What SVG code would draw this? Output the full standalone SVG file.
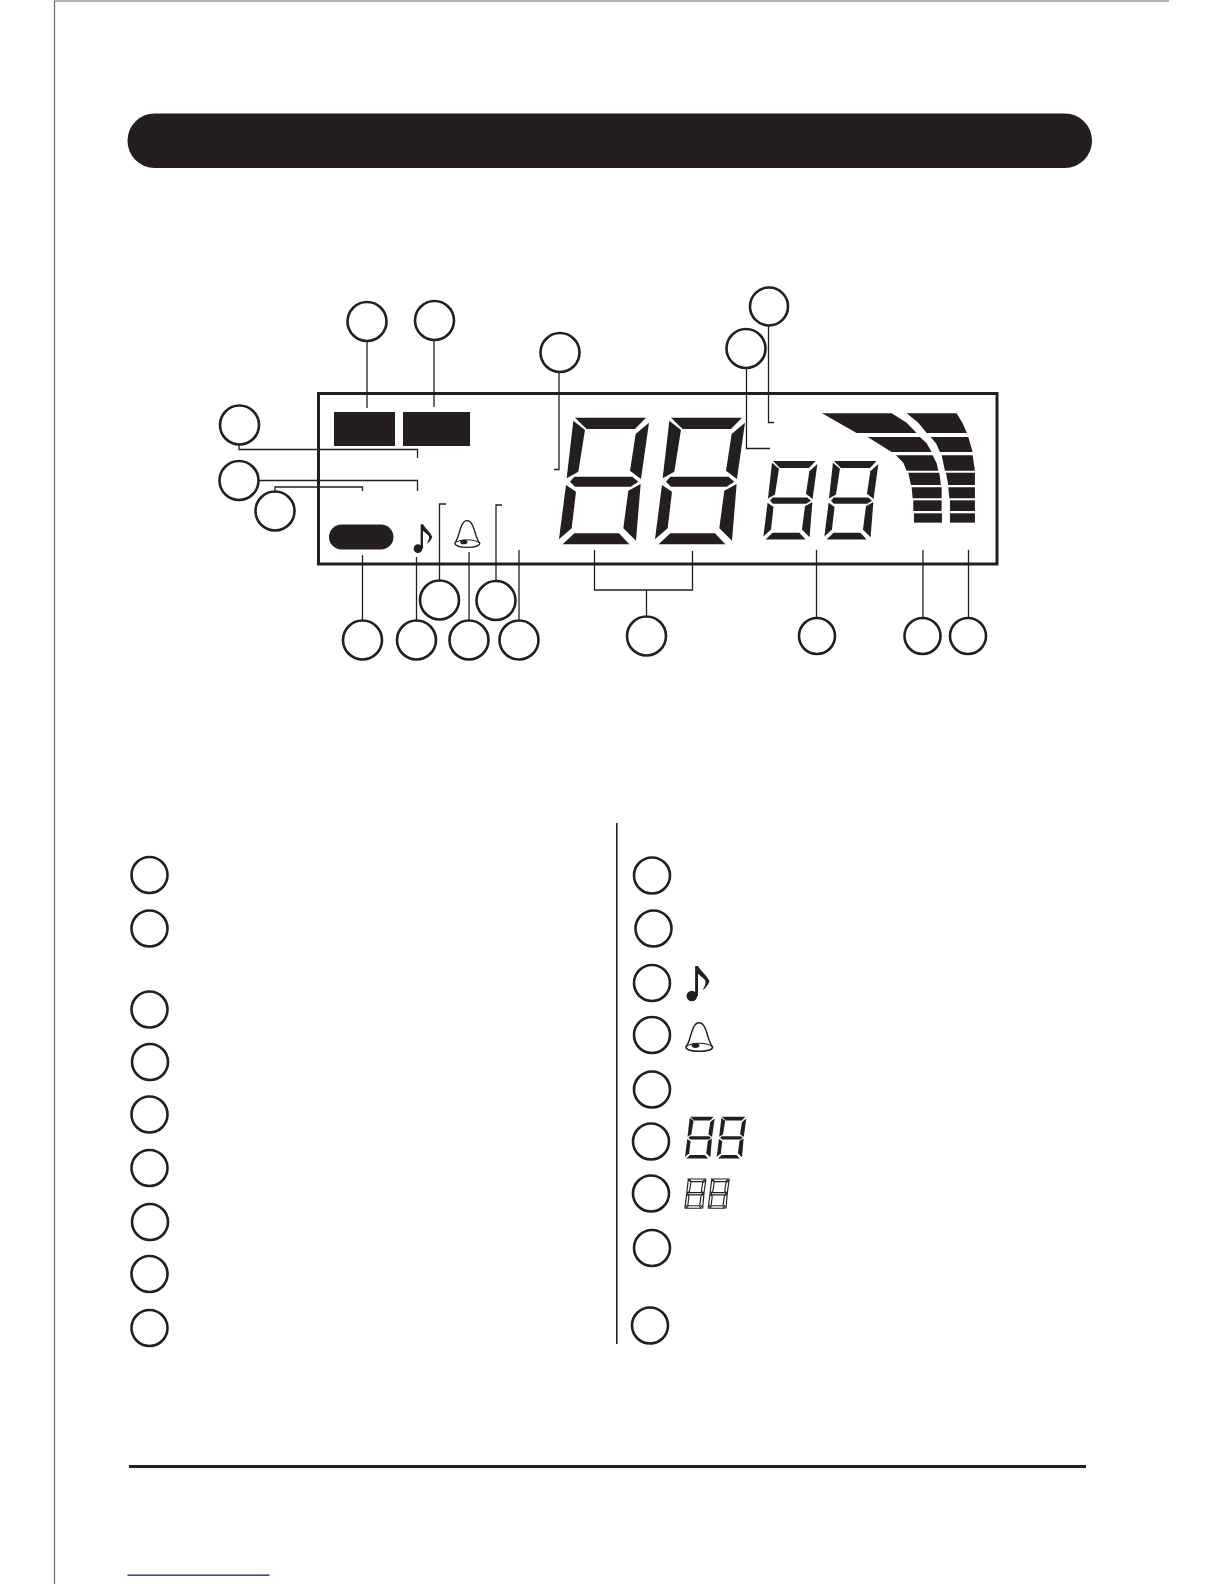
<svg xmlns="http://www.w3.org/2000/svg" width="1224" height="1584" viewBox="0 0 1224 1584">
<style>
.c{fill:#fff;stroke:#231f20;stroke-width:2.6}
.l{fill:none;stroke:#231f20;stroke-width:1.3}
.k{fill:#231f20}
.o{fill:#fff;stroke:#231f20;stroke-width:15}
</style>
<defs>
<g id="d">
<polygon points="105,413 318,413 285,447 140,447"/>
<polygon points="100,422 135,450 115,575 80,595"/>
<polygon points="327,428 287,462 270,572 303,597"/>
<polygon points="103,590 277,590 295,605 272,620 105,620 90,605"/>
<polygon points="78,615 108,635 95,745 57,778"/>
<polygon points="302,612 265,632 250,745 288,782"/>
<polygon points="103,760 237,760 268,793 68,793"/>
</g>
<g id="note">
<circle cx="654" cy="806" r="13"/>
<path d="M662,806V733H669C676,746 690,755 697,770C694,780 688,786 680,792C684,784 689,776 687,768C682,762 674,757 669,752V806Z"/>
</g>
<g id="bell">
<path d="M763,790C778,772 778,722 800,722C822,722 822,772 838,790C838,806 763,806 763,790Z" fill="#fff" stroke="#231f20" stroke-width="4"/>
<path d="M763,790C775,776 825,776 838,790" fill="none" stroke="#231f20" stroke-width="3"/>
<ellipse cx="790" cy="786" rx="11" ry="7" fill="#231f20"/>
</g>
</defs>
<rect width="1224" height="1584" fill="#fff"/>
<g id="page-frame">
<path d="M54.5,1584V1H1169" fill="none" stroke="#666" stroke-width="1.2"/>
<rect x="127.500" y="113.500" width="964.500" height="54.500" rx="27" class="k"/>
<rect x="616" y="823" width="1.6" height="521" class="k"/>
<rect x="129" y="1465" width="957" height="3" class="k"/>
<rect x="127.500" y="1574.500" width="142" height="1.3" fill="#1a1a80"/>
</g>
<g id="display">
<rect x="318.500" y="393.500" width="678.500" height="170.500" fill="none" stroke="#231f20" stroke-width="3"/>
<rect x="334" y="412" width="61" height="34" class="k"/>
<rect x="403" y="412" width="67" height="34" class="k"/>
<rect x="329" y="524.500" width="64.500" height="25" rx="12.500" class="k"/>
<g class="k" transform="translate(200,280) scale(.3333)"><use href="#note"/></g>
<g transform="translate(200.500,280) scale(.3333)"><use href="#bell"/></g>
<g class="k" transform="translate(540,280) scale(.3333)">
<use href="#d"/>
<use href="#d" x="288"/>
<g transform="translate(636,287) scale(.6,.62)"><use href="#d"/></g>
<g transform="translate(819,287) scale(.6,.62)"><use href="#d"/></g>
<polygon points="846,400 1055,400 1100,428 1130,459 950,459"/>
<polygon points="983,471 1140,471 1160,490 1175,516 1055,516"/>
<polygon points="1068,526 1178,526 1190,550 1195,572 1100,572 1090,548"/>
<polygon points="1105,578 1198,578 1203,615 1113,615"/>
<polygon points="1115,622 1205,622 1205,655 1118,655"/>
<polygon points="1120,661 1205,661 1205,693 1120,693"/>
<polygon points="1122,700 1206,700 1206,728 1122,728"/>
<polygon points="1100,400 1250,400 1268,430 1281,459 1160,459 1135,428"/>
<polygon points="1172,471 1285,471 1298,516 1200,516 1188,490"/>
<polygon points="1205,526 1298,526 1305,572 1215,572"/>
<polygon points="1218,578 1305,578 1305,615 1225,615"/>
<polygon points="1225,622 1305,622 1305,655 1228,655"/>
<polygon points="1230,661 1305,661 1305,693 1230,693"/>
<polygon points="1230,700 1305,700 1305,728 1230,728"/>
</g>
</g>
<g id="connectors" class="l">
<path d="M367,342V408"/>
<path d="M434,340V407"/>
<path d="M239,445V449.500H417.500V458"/>
<path d="M259,480.500H417.500V491"/>
<path d="M275,491V487H362.500V491"/>
<path d="M362.500,555V620"/>
<path d="M416.500,557V620"/>
<path d="M469,552V620"/>
<path d="M519,550V620"/>
<path d="M439.500,580V504H446"/>
<path d="M496,581V505H502"/>
<path d="M559,373V469.500H554"/>
<path d="M746.500,368V448.500H770"/>
<path d="M768.500,326V422.500H774"/>
<path d="M594.500,550V590H692.500V551"/>
<path d="M646.500,590V616"/>
<path d="M816.500,550V618"/>
<path d="M923,550V618"/>
<path d="M968.500,550V618"/>
</g>
<g id="callouts">
<circle id="n1" class="c" cx="367" cy="321.500" r="19.500"/>
<circle id="n2" class="c" cx="434.500" cy="320.500" r="19.500"/>
<circle id="n3" class="c" cx="560" cy="352.500" r="19.500"/>
<circle id="n4" class="c" cx="769" cy="306.500" r="19"/>
<circle id="n5" class="c" cx="746" cy="348.500" r="19.500"/>
<circle id="n6" class="c" cx="239.500" cy="425" r="19.500"/>
<circle id="n7" class="c" cx="239" cy="480.500" r="19.500"/>
<circle id="n8" class="c" cx="275" cy="511" r="19.500"/>
<circle id="n9" class="c" cx="362.500" cy="640" r="19.500"/>
<circle id="n10" class="c" cx="416.500" cy="640" r="19.500"/>
<circle id="n11" class="c" cx="469" cy="640" r="19.500"/>
<circle id="n12" class="c" cx="519" cy="640" r="19.500"/>
<circle id="n13" class="c" cx="439.500" cy="600" r="19.500"/>
<circle id="n14" class="c" cx="496" cy="600.500" r="19.500"/>
<circle id="n15" class="c" cx="646.500" cy="636" r="19.500"/>
<circle id="n16" class="c" cx="817" cy="636" r="18"/>
<circle id="n17" class="c" cx="922.500" cy="636" r="18"/>
<circle id="n18" class="c" cx="968" cy="636" r="18"/>
</g>
<g id="legend">
<circle id="l1" class="c" cx="149.500" cy="875" r="18"/>
<circle id="l2" class="c" cx="149.500" cy="928.500" r="18"/>
<circle id="l3" class="c" cx="149.500" cy="1009.500" r="18"/>
<circle id="l4" class="c" cx="150" cy="1062" r="18"/>
<circle id="l5" class="c" cx="149.500" cy="1114.500" r="18"/>
<circle id="l6" class="c" cx="149.500" cy="1168" r="18"/>
<circle id="l7" class="c" cx="150" cy="1222" r="18"/>
<circle id="l8" class="c" cx="149.500" cy="1274" r="18"/>
<circle id="l9" class="c" cx="149.500" cy="1328" r="18"/>
<circle id="r1" class="c" cx="652" cy="875.500" r="18"/>
<circle id="r2" class="c" cx="653.500" cy="928.500" r="18"/>
<circle id="r3" class="c" cx="652" cy="983" r="18"/>
<circle id="r4" class="c" cx="652" cy="1035" r="18"/>
<circle id="r5" class="c" cx="652" cy="1089.500" r="18"/>
<circle id="r6" class="c" cx="651" cy="1141.500" r="18"/>
<circle id="r7" class="c" cx="651" cy="1193.500" r="18"/>
<circle id="r8" class="c" cx="652" cy="1248" r="18"/>
<circle id="r9" class="c" cx="650" cy="1325.500" r="18"/>
<g class="k" transform="translate(423.700,665.500) scale(.41)"><use href="#note"/></g>
<g transform="translate(413.500,765) scale(.357)"><use href="#bell"/></g>
<g class="k" transform="translate(678.700,1071.300) scale(.11)"><use href="#d"/><use href="#d" x="288"/></g>
<g class="o" transform="translate(680.600,1147.200) scale(.077)"><use href="#d"/><use href="#d" x="303"/></g>
</g>
</svg>
